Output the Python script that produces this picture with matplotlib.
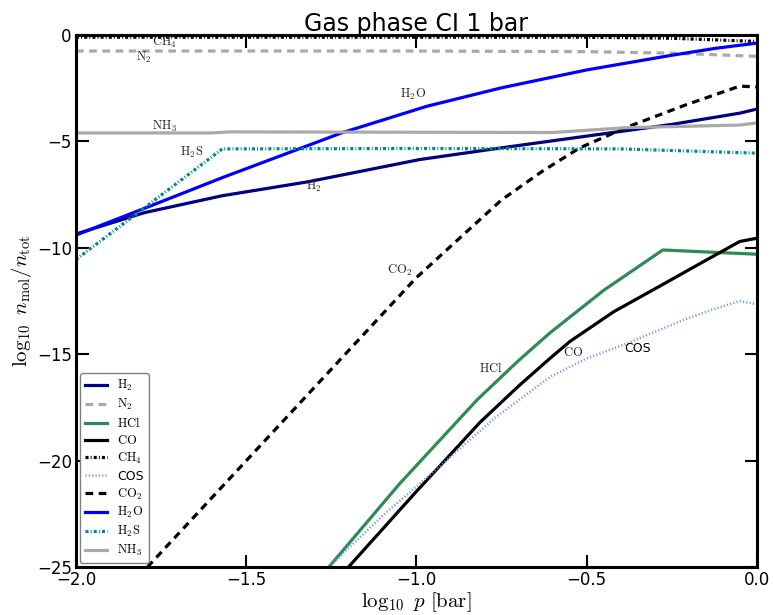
import numpy as np
import matplotlib
matplotlib.use('Agg')
import matplotlib.pyplot as plt

plt.rcParams['mathtext.fontset'] = 'cm'
plt.rcParams['lines.scale_dashes'] = False

# log10 p [bar] / log10 n_mol/n_tot
x_h2 = [-2.0, -1.8, -1.57, -1.32, -1.15, -0.99, -0.75, -0.5, -0.25, -0.05, 0.0]
y_h2 = [-9.35, -8.35, -7.55, -6.9, -6.36, -5.85, -5.3, -4.75, -4.2, -3.67, -3.48]

x_n2 = [-2.0, -1.0, -0.5, -0.25, 0.0]
y_n2 = [-0.75, -0.75, -0.78, -0.85, -1.0]

x_hcl = [-1.3, -1.257, -1.05, -0.822, -0.7, -0.608, -0.45, -0.276, 0.0]
y_hcl = [-25.8, -25.0, -21.1, -17.15, -15.3, -14.0, -12.0, -10.1, -10.3]

x_co = [-1.25, -1.0, -0.813, -0.7, -0.608, -0.549, -0.42, -0.285, -0.159, -0.05, 0.0]
y_co = [-25.9, -21.45, -18.2, -16.5, -15.2, -14.4, -13.0, -11.8, -10.67, -9.7, -9.55]

x_ch4 = [-2.0, -0.5, -0.25, 0.0]
y_ch4 = [-0.1, -0.1, -0.15, -0.3]

x_cos = [-1.3, -1.1, -0.93, -0.77, -0.608, -0.5, -0.382, -0.3, -0.217, -0.13, -0.05, 0.0]
y_cos = [-25.65, -22.6, -20.25, -18.0, -16.07, -15.2, -14.5, -13.95, -13.4, -12.9, -12.5, -12.65]

x_co2 = [-2.0, -1.79, -1.0, -0.87, -0.75, -0.63, -0.52, -0.38, -0.21, -0.05, 0.0]
y_co2 = [-28.7, -25.0, -11.4, -9.5, -7.75, -6.4, -5.3, -4.32, -3.29, -2.4, -2.44]

x_h2o = [-2.0, -1.8, -1.57, -1.22, -0.97, -0.75, -0.5, -0.25, -0.12, 0.0]
y_h2o = [-9.4, -8.15, -6.7, -4.6, -3.35, -2.48, -1.64, -0.95, -0.62, -0.38]

x_h2s = [-2.0, -1.57, -1.0, -0.4, 0.0]
y_h2s = [-10.55, -5.35, -5.33, -5.35, -5.55]

x_nh3 = [-2.0, -1.6, -1.55, -0.6, -0.38, -0.05, 0.0]
y_nh3 = [-4.6, -4.6, -4.55, -4.58, -4.35, -4.23, -4.13]

fig = plt.figure(figsize=(7.73, 6.15), dpi=100)
ax = fig.add_axes([0.0983, 0.078, 0.8807, 0.865])

dashdot = (0, (2.2, 1.5, 0.7, 1.5))
dashed = (0, (5.5, 4))

ax.plot(x_h2, y_h2, color='navy', lw=2.3, label=r'$\rm H_2$')
ax.plot(x_n2, y_n2, color='darkgray', lw=2.3, ls=dashed, label=r'$\rm N_2$')
ax.plot(x_hcl, y_hcl, color='seagreen', lw=2.3, label=r'$\rm HCl$')
ax.plot(x_co, y_co, color='black', lw=2.3, label=r'$\rm CO$')
ax.plot(x_ch4, y_ch4, color='black', lw=2.3, ls=dashdot, label=r'$\rm CH_4$')
ax.plot(x_cos, y_cos, color='cornflowerblue', lw=1.8, ls=(0, (0.8, 1.6)), label='COS')
ax.plot(x_co2, y_co2, color='black', lw=2.3, ls=dashed, label=r'$\rm CO_2$')
ax.plot(x_h2o, y_h2o, color='blue', lw=2.3, label=r'$\rm H_2O$')
ax.plot(x_h2s, y_h2s, color='darkcyan', lw=2.3, ls=dashdot, label=r'$\rm H_2S$')
ax.plot(x_nh3, y_nh3, color='darkgray', lw=2.3, label=r'$\rm NH_3$')

# inline labels
lab = dict(fontsize=9, color='0.15', ha='center', va='center')
ax.text(-1.74, -0.33, r'$\rm CH_4$', **lab)
ax.text(-1.8, -1.03, r'$\rm N_2$', **lab)
ax.text(-1.01, -2.77, r'$\rm H_2O$', **lab)
ax.text(-1.74, -4.28, r'$\rm NH_3$', **lab)
ax.text(-1.66, -5.5, r'$\rm H_2S$', **lab)
ax.text(-1.3, -7.1, r'$\rm H_2$', **lab)
ax.text(-1.05, -11.04, r'$\rm CO_2$', **lab)
ax.text(-0.78, -15.65, r'$\rm HCl$', **lab)
ax.text(-0.54, -14.9, r'$\rm CO$', **lab)
ax.text(-0.35, -14.75, 'COS', fontsize=9, color='black', ha='center', va='center')

ax.set_xlim(-2.0, 0.0)
ax.set_ylim(-25, 0)
ax.set_xticks([-2.0, -1.5, -1.0, -0.5, 0.0])
ax.set_yticks([0, -5, -10, -15, -20, -25])
ax.tick_params(direction='in', top=True, right=True, length=9, width=1.5, labelsize=12, pad=3)
for s in ax.spines.values():
    s.set_linewidth(2.2)

ax.set_xlabel(r'$\log_{10}\ p\ [\rm bar]$', fontsize=15, labelpad=1)
ax.set_ylabel(r'$\log_{10}\ n_{\rm mol}/n_{\rm tot}$', fontsize=15, labelpad=2)
ax.set_title('Gas phase CI 1 bar', fontsize=17, pad=3)

ax.legend(loc='lower left', fontsize=9, handlelength=1.8, labelspacing=0.3,
          borderpad=0.4, handletextpad=0.8, borderaxespad=0.3,
          framealpha=1, edgecolor='0.5')

fig.savefig('out.png', dpi=100)
